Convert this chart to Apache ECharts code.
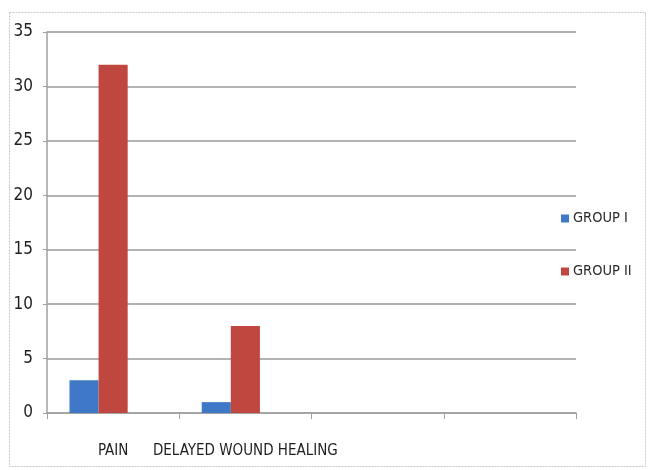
<!DOCTYPE html>
<html>
<head>
<meta charset="utf-8">
<script src="https://cdn.jsdelivr.net/npm/echarts@6/dist/echarts.min.js"></script>
<style>
  html, body { margin: 0; padding: 0; background: #fff; }
  #chart { width: 650px; height: 470px; }
</style>
</head>
<body>
<div id="chart"></div>
<script>
// Complication counts per category
const categories = ['PAIN', 'DELAYED WOUND HEALING', '', ''];
const groupOne = [3, 1, null, null];
const groupTwo = [32, 8, null, null];
// Empty third slot in each cluster (keeps the pair left-aligned in its band)
const spareSlot = [null, null, null, null];
const yTicks = { min: 0, max: 35, step: 5 };

const narrow = '"Liberation Sans Narrow", "Arial Narrow", "DejaVu Sans Condensed", sans-serif';
const axisGray = '#a0a0a0';

const chart = echarts.init(document.getElementById('chart'), null, { renderer: 'canvas' });
chart.setOption({
  animation: false,
  backgroundColor: '#ffffff',
  graphic: [{
    type: 'rect',
    shape: { x: 9.5, y: 12.5, width: 636, height: 454 },
    style: { fill: 'none', stroke: '#c8c8c8', lineWidth: 1, lineDash: [2, 1] },
    silent: true
  }],
  grid: { left: 47, right: 74, top: 32, bottom: 57, containLabel: false },
  legend: {
    data: ['GROUP I', 'GROUP II'],
    orient: 'vertical',
    left: 561,
    top: 211,
    padding: 0,
    itemWidth: 8,
    itemHeight: 8,
    itemGap: 38,
    icon: 'rect',
    textStyle: { fontFamily: narrow, fontSize: 14.5, color: '#2a2a2a', padding: [0, 0, 0, -1] }
  },
  xAxis: {
    type: 'category',
    data: categories,
    axisLine: { lineStyle: { color: axisGray, width: 1.5 } },
    axisTick: { show: true, length: 6, lineStyle: { color: axisGray } },
    axisLabel: { margin: 31, fontFamily: narrow, fontSize: 15, color: '#1e1e1e', interval: 0 },
    splitLine: { show: false }
  },
  yAxis: {
    type: 'value',
    min: yTicks.min,
    max: yTicks.max,
    interval: yTicks.step,
    axisLine: { show: true, lineStyle: { color: axisGray, width: 1.5 } },
    axisTick: { show: true, length: 4, lineStyle: { color: axisGray } },
    axisLabel: { margin: 14, fontFamily: narrow, fontSize: 17, color: '#1e1e1e' },
    splitLine: { show: true, lineStyle: { color: '#9a9a9a', width: 1.6 } }
  },
  series: [
    {
      name: 'GROUP I', type: 'bar', data: groupOne,
      barGap: '0%', barCategoryGap: '34%',
      itemStyle: { color: '#3f78c6' }
    },
    {
      name: 'GROUP II', type: 'bar', data: groupTwo,
      barGap: '0%', barCategoryGap: '34%',
      itemStyle: { color: '#c0473f' }
    },
    {
      name: 'spare', type: 'bar', data: spareSlot,
      barGap: '0%', barCategoryGap: '34%',
      itemStyle: { color: 'transparent' }
    }
  ]
});
</script>
</body>
</html>
